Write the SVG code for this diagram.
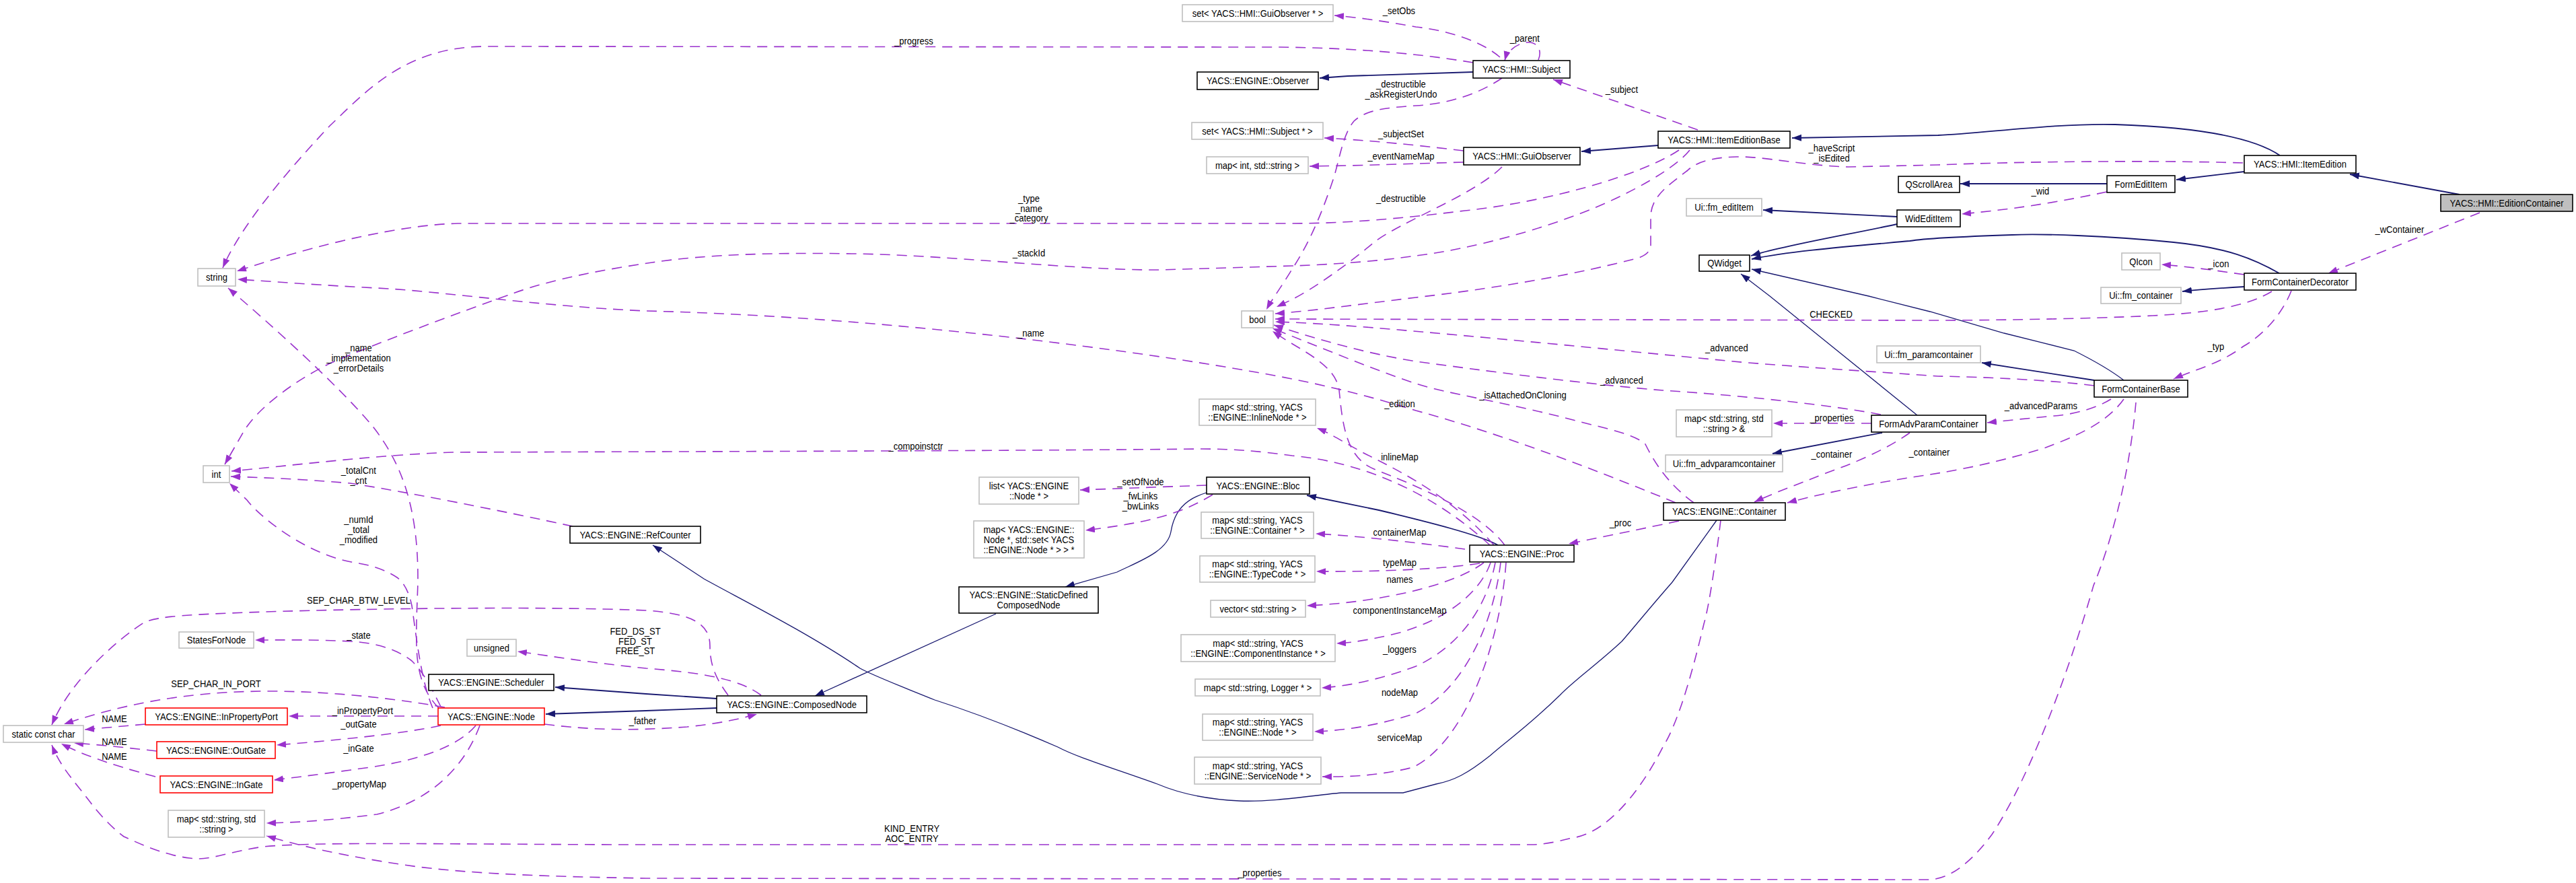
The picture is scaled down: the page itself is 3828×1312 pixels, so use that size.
<svg xmlns="http://www.w3.org/2000/svg" width="3828" height="1312" viewBox="0 0 3828 1312">
<style>
text { font-family: "Liberation Sans", Arial, sans-serif; font-size: 15.5px; fill: #000; text-anchor: middle; transform-box: fill-box; transform-origin: center; transform: scaleX(0.84); }
.b rect { fill: #fff; stroke: #000; stroke-width: 1.6; }
.g rect { fill: #fff; stroke: #bfbfbf; stroke-width: 1.6; }
.r rect { fill: #fff; stroke: #ff0000; stroke-width: 1.6; }
.f rect { fill: #bfbfbf; stroke: #000; stroke-width: 1.6; }
.u { fill: none; stroke: #9a32cd; stroke-width: 1.6; stroke-dasharray: 15 10; marker-end: url(#ap); }
.h { fill: none; stroke: #191970; stroke-width: 1.8; marker-end: url(#an); }
.h1 { fill: none; stroke: #191970; stroke-width: 1.3; marker-end: url(#an); }
</style>
<defs>
<marker id="ap" markerUnits="userSpaceOnUse" markerWidth="16" markerHeight="12" refX="14" refY="5" orient="auto"><path d="M0,0 L14,5 L0,10 z" fill="#9a32cd"/></marker>
<marker id="an" markerUnits="userSpaceOnUse" markerWidth="16" markerHeight="12" refX="14" refY="5" orient="auto"><path d="M0,0 L14,5 L0,10 z" fill="#191970"/></marker>
</defs>
<rect width="3828" height="1312" fill="#fff"/>

<g id="edges">
<!-- inheritance -->
<path class="h" d="M2189,107 L2003,113 L1961,116"/>
<path class="h" d="M2464,216 L2350,225"/>
<path class="h" d="M3388,231 C3360,212 3300,190 3143,185 C3050,183 2950,198 2880,201 L2663,205"/>
<path class="h" d="M3655,289 L3492,259"/>
<path class="h" d="M3335,255 L3234,267"/>
<path class="h" d="M3131,273 L2913,273"/>
<path class="h" d="M2819,322 L2620,312"/>
<path class="h" d="M2819,333 C2740,350 2650,365 2602,380"/>
<path class="h" d="M3387,406 C3350,385 3310,368 3230,360 C3130,350 3030,347 2990,349 C2900,352 2850,356 2838,358 C2750,366 2660,373 2603,385"/>
<path class="h1" d="M3156,565 C3130,545 3100,530 3082,521 L2978,495 L2868,463 L2777,440 L2603,400"/>
<path class="h1" d="M2849,617 L2630,440 L2587,407"/>
<path class="h" d="M3335,426 C3300,428 3270,430 3243,433"/>
<path class="h" d="M3112,565 C3050,555 3000,548 2945,539"/>
<path class="h" d="M2797,643 L2634,674"/>
<path class="h" d="M2226,810 C2200,795 2120,775 2049,758 L1942,736"/>
<path class="h1" d="M1793,732 C1760,742 1745,760 1740,790 C1735,820 1690,835 1660,850 L1583,872"/>
<path class="h1" d="M1480,912 L1211,1034"/>
<path class="h" d="M1065,1038 L960,1031 L825,1021"/>
<path class="h" d="M1065,1052 L960,1056 L811,1061"/>
<path class="h1" d="M2551,773 L2485,865 C2450,905 2430,930 2410,953 C2370,990 2340,1010 2318,1033 C2270,1080 2240,1100 2214,1123 C2180,1150 2160,1160 2134,1165 L2085,1178 L1993,1178 C1950,1182 1890,1192 1842,1190 C1800,1188 1760,1182 1720,1165 C1650,1140 1600,1125 1572,1110 C1480,1070 1420,1050 1389,1040 C1340,1020 1300,1005 1278,993 C1200,940 1100,890 1046,860 L970,810"/>

<!-- usage -->
<path class="u" d="M2229,85 C2200,60 2150,45 2104,40 C2060,32 2020,26 1983,23"/>
<path class="u" d="M2286,89 C2292,75 2285,62 2270,63 C2255,64 2240,75 2236,90"/>
<path class="u" d="M2189,93 C2100,78 2000,71 1900,70 L722,69 C600,69 540,140 490,187 C440,240 360,330 331,398"/>
<path class="u" d="M2232,116 C2190,145 2140,155 2104,157 C2060,160 2030,163 2012,180 C1995,200 1990,240 1981,267 C1960,330 1940,370 1920,400 C1905,425 1890,445 1882,460"/>
<path class="u" d="M2523,193 L2308,118"/>
<path class="u" d="M2175,224 C2100,215 2030,208 1968,205"/>
<path class="u" d="M2175,241 C2100,243 2030,246 1946,247"/>
<path class="u" d="M2232,248 C2190,290 2080,330 2042,360 C2000,395 1950,430 1920,445 L1897,456"/>
<path class="u" d="M2495,223 C2440,260 2300,300 2177,313 C2080,325 2000,332 1920,332 L680,332 C600,334 480,360 352,403"/>
<path class="u" d="M2511,223 C2490,250 2420,290 2349,317 C2250,355 2150,375 2104,380 C2050,388 1980,393 1920,395 L1725,401 C1600,402 1400,378 1266,377 C1150,375 1050,378 969,390 C900,400 820,415 765,435 C680,465 560,510 490,540 C430,570 380,610 361,643 L334,690"/>
<path class="u" d="M3333,242 C3200,238 3000,240 2880,245 L2746,248 C2680,246 2620,232 2581,233 C2540,234 2520,242 2508,253 C2480,275 2455,290 2453,320 L2453,367 C2450,378 2440,382 2428,385 C2350,405 2250,425 2104,442 C2020,452 1950,462 1895,466"/>
<path class="u" d="M3685,316 L3460,406"/>
<path class="u" d="M3131,285 C3060,300 3000,310 2915,318"/>
<path class="u" d="M3335,408 C3280,400 3240,395 3212,393"/>
<path class="u" d="M3376,433 C3340,455 3280,465 3199,469 C3100,474 2950,476 2868,476 L1895,474"/>
<path class="u" d="M3405,432 C3390,470 3360,500 3333,515 C3300,540 3260,550 3230,563"/>
<path class="u" d="M3112,573 C3050,565 2950,560 2880,559 C2750,550 2600,540 2566,536 C2400,520 2200,500 2042,487 C1990,483 1950,480 1895,478"/>
<path class="u" d="M3137,593 C3110,610 3070,617 3052,618 C3010,622 2980,625 2953,628"/>
<path class="u" d="M3156,593 C3130,630 3080,650 3040,665 C2960,690 2900,700 2868,705 C2800,715 2720,730 2656,747"/>
<path class="u" d="M3174,598 C3165,700 3140,800 3111,870 C3080,980 3020,1150 2960,1240 C2930,1280 2900,1305 2868,1307 L960,1305 C850,1303 700,1300 600,1285 C500,1270 440,1255 396,1242"/>
<path class="u" d="M2795,616 C2700,598 2550,585 2471,580 C2350,570 2200,550 2104,537 C2030,525 1960,505 1893,483"/>
<path class="u" d="M2781,629 L2635,629"/>
<path class="u" d="M2838,643 C2800,670 2750,690 2716,702 C2670,720 2630,735 2607,746"/>
<path class="u" d="M2517,747 C2480,720 2460,690 2445,660 C2430,645 2380,635 2349,627 C2250,600 2150,585 2104,570 C2030,545 1960,515 1891,488"/>
<path class="u" d="M2495,774 C2420,790 2370,800 2331,808"/>
<path class="u" d="M2490,747 C2400,710 2250,650 2104,610 C2040,590 1980,575 1920,563 C1700,520 1300,470 960,462 C800,455 650,432 560,428 C480,424 400,418 353,415"/>
<path class="u" d="M2214,810 C2160,760 2060,690 1920,677 C1870,670 1830,667 1786,667 C1500,670 1000,671 673,672 C560,676 450,690 344,700"/>
<path class="u" d="M2236,810 C2200,760 2100,720 2042,697 C2000,680 1995,630 1990,580 C1985,540 1930,520 1891,492"/>
<path class="u" d="M2220,810 C2160,740 2080,700 2040,680 C2000,660 1980,645 1957,636"/>
<path class="u" d="M2177,816 C2100,805 2000,795 1955,793"/>
<path class="u" d="M2199,837 C2150,845 2050,850 1956,849"/>
<path class="u" d="M2205,836 C2160,870 2050,895 1942,900"/>
<path class="u" d="M2215,836 C2200,880 2150,920 2080,940 C2040,950 2010,955 1986,956"/>
<path class="u" d="M2222,836 C2210,900 2170,960 2104,990 C2050,1010 2000,1020 1964,1022"/>
<path class="u" d="M2230,836 C2220,920 2180,1020 2104,1060 C2040,1080 1990,1086 1953,1087"/>
<path class="u" d="M2238,836 C2230,950 2180,1100 2100,1140 C2040,1155 1990,1154 1965,1154"/>
<path class="u" d="M1793,721 L1605,728"/>
<path class="u" d="M1802,735 C1760,760 1720,775 1613,788"/>
<path class="u" d="M851,782 C750,760 600,730 520,718 C450,712 400,710 343,708"/>
<path class="u" d="M643,1052 C625,1010 618,940 612,900 C608,880 600,865 590,858 C570,845 550,840 533,837 C500,832 470,820 441,803 C410,785 380,760 367,743 L341,718"/>
<path class="u" d="M652,1052 C630,1030 620,1000 619,960 C618,920 621,880 621,860 C621,760 600,690 551,630 C500,570 400,480 339,428"/>
<path class="u" d="M655,1050 C640,1020 630,1000 612,982 C590,965 560,955 520,953 C470,950 420,951 379,951"/>
<path class="u" d="M651,1064 L429,1064"/>
<path class="u" d="M655,1078 C600,1090 500,1100 411,1107"/>
<path class="u" d="M707,1078 C680,1110 620,1130 550,1140 C480,1150 440,1155 407,1159"/>
<path class="u" d="M713,1078 C690,1140 640,1190 560,1210 C480,1220 440,1222 396,1223"/>
<path class="u" d="M661,1051 C600,1040 500,1027 400,1027 C300,1027 200,1040 95,1076"/>
<path class="u" d="M216,1076 L126,1084"/>
<path class="u" d="M233,1116 C180,1110 140,1106 110,1104"/>
<path class="u" d="M231,1154 C160,1135 120,1120 91,1105"/>
<path class="u" d="M1082,1033 C1065,1010 1055,990 1055,960 C1055,930 1035,912 960,907 C800,900 500,905 367,910 C290,913 235,915 214,925 C175,950 105,1010 77,1077"/>
<path class="u" d="M1131,1033 C1100,1010 1050,1000 960,993 C880,985 820,975 769,968"/>
<path class="u" d="M809,1076 C880,1085 940,1086 1021,1080 C1070,1075 1100,1068 1125,1061"/>
<path class="u" d="M2557,773 C2550,830 2540,900 2532,927 C2510,1020 2490,1080 2471,1110 C2430,1190 2380,1240 2336,1245 C2310,1252 2290,1255 2275,1255 L960,1255 C700,1255 470,1250 392,1258 C340,1265 310,1280 282,1275 C240,1270 200,1250 184,1243 C160,1225 140,1200 135,1193 C110,1160 90,1140 77,1107"/>
</g>

<g id="labels">
<text x="2079" y="21.5">_setObs</text>
<text x="2266" y="62.5">_parent</text>
<text x="1358" y="66.5">_progress</text>
<text x="2082" y="130.5"><tspan x="2082">_destructible</tspan><tspan x="2082" dy="14.5">_askRegisterUndo</tspan></text>
<text x="2410" y="138.5">_subject</text>
<text x="2082" y="204.5">_subjectSet</text>
<text x="2082" y="237.5">_eventNameMap</text>
<text x="2722" y="225.5"><tspan x="2722">_haveScript</tspan><tspan x="2722" dy="14.5">_isEdited</tspan></text>
<text x="2082" y="300.5">_destructible</text>
<text x="1529" y="300.5"><tspan x="1529">_type</tspan><tspan x="1529" dy="14.5">_name</tspan><tspan x="1529" dy="14.5">_category</tspan></text>
<text x="1529" y="381.5">_stackId</text>
<text x="3032" y="289.5">_wid</text>
<text x="3566" y="346.5">_wContainer</text>
<text x="3297" y="397.5">_icon</text>
<text x="2721" y="472.5">CHECKED</text>
<text x="1532" y="500.5">_name</text>
<text x="3293" y="520.5">_typ</text>
<text x="2566" y="522.5">_advanced</text>
<text x="533" y="522.5"><tspan x="533">_name</tspan><tspan x="533" dy="15">_implementation</tspan><tspan x="533" dy="15">_errorDetails</tspan></text>
<text x="2410" y="570.5">_advanced</text>
<text x="2263" y="592.5">_isAttachedOnCloning</text>
<text x="2080" y="605.5">_edition</text>
<text x="3033" y="608.5">_advancedParams</text>
<text x="2722" y="626.5">_properties</text>
<text x="1361" y="668.5">_compoinstctr</text>
<text x="2722" y="680.5">_container</text>
<text x="2867" y="677.5">_container</text>
<text x="2080" y="684.5">inlineMap</text>
<text x="533" y="704.5"><tspan x="533">_totalCnt</tspan><tspan x="533" dy="15">_cnt</tspan></text>
<text x="1695" y="721.5">_setOfNode</text>
<text x="1695" y="742.5"><tspan x="1695">_fwLinks</tspan><tspan x="1695" dy="15">_bwLinks</tspan></text>
<text x="2408" y="782.5">_proc</text>
<text x="533" y="777.5"><tspan x="533">_numId</tspan><tspan x="533" dy="15">_total</tspan><tspan x="533" dy="14.5">_modified</tspan></text>
<text x="2080" y="796.5">containerMap</text>
<text x="2080" y="841.5">typeMap</text>
<text x="2080" y="866.5">names</text>
<text x="533" y="897.5">SEP_CHAR_BTW_LEVEL</text>
<text x="2080" y="912.5">componentInstanceMap</text>
<text x="944" y="943.5"><tspan x="944">FED_DS_ST</tspan><tspan x="944" dy="14.5">FED_ST</tspan><tspan x="944" dy="14.5">FREE_ST</tspan></text>
<text x="533" y="949.5">_state</text>
<text x="2080" y="970.5">_loggers</text>
<text x="321" y="1021.5">SEP_CHAR_IN_PORT</text>
<text x="2080" y="1034.5">nodeMap</text>
<text x="539" y="1061.5">_inPropertyPort</text>
<text x="170" y="1073.5">NAME</text>
<text x="955" y="1076.5">_father</text>
<text x="533" y="1081.5">_outGate</text>
<text x="2080" y="1101.5">serviceMap</text>
<text x="170" y="1107.5">NAME</text>
<text x="533" y="1117.5">_inGate</text>
<text x="170" y="1129.5">NAME</text>
<text x="534" y="1170.5">_propertyMap</text>
<text x="1355" y="1236.5"><tspan x="1355">KIND_ENTRY</tspan><tspan x="1355" dy="15">AOC_ENTRY</tspan></text>
<text x="1872" y="1302.5">_properties</text>
</g>

<g id="nodes">
<g id="n1" class="g"><rect x="1757" y="7" width="224" height="25"/><text x="1869" y="25">set&lt; YACS::HMI::GuiObserver * &gt;</text></g>
<g id="n2" class="b"><rect x="2189" y="90" width="144" height="26"/><text x="2261" y="108.5">YACS::HMI::Subject</text></g>
<g id="n3" class="b"><rect x="1779" y="107" width="180" height="26"/><text x="1869" y="125.5">YACS::ENGINE::Observer</text></g>
<g id="n4" class="g"><rect x="1771" y="182" width="195" height="25"/><text x="1868.5" y="200">set&lt; YACS::HMI::Subject * &gt;</text></g>
<g id="n5" class="g"><rect x="1793" y="233" width="151" height="25"/><text x="1868.5" y="251">map&lt; int, std::string &gt;</text></g>
<g id="n6" class="b"><rect x="2175" y="219" width="173" height="26"/><text x="2261.5" y="237.5">YACS::HMI::GuiObserver</text></g>
<g id="n7" class="b"><rect x="2464" y="195" width="196" height="25"/><text x="2562" y="213">YACS::HMI::ItemEditionBase</text></g>
<g id="n8" class="b"><rect x="3335" y="231" width="166" height="26"/><text x="3418" y="249.5">YACS::HMI::ItemEdition</text></g>
<g id="n9" class="f"><rect x="3627" y="289" width="196" height="25"/><text x="3725" y="307">YACS::HMI::EditionContainer</text></g>
<g id="n10" class="b"><rect x="2821" y="262" width="91" height="24"/><text x="2866.5" y="279.5">QScrollArea</text></g>
<g id="n11" class="b"><rect x="3131" y="261" width="101" height="25"/><text x="3181.5" y="279">FormEditItem</text></g>
<g id="n12" class="g"><rect x="2506" y="295" width="112" height="26"/><text x="2562" y="313.5">Ui::fm_editItem</text></g>
<g id="n13" class="b"><rect x="2819" y="312" width="94" height="25"/><text x="2866" y="330">WidEditItem</text></g>
<g id="n14" class="b"><rect x="2525" y="379" width="75" height="24"/><text x="2562.5" y="396.5">QWidget</text></g>
<g id="n15" class="g"><rect x="3153" y="376" width="57" height="25"/><text x="3181.5" y="394">QIcon</text></g>
<g id="n16" class="b"><rect x="3335" y="406" width="166" height="25"/><text x="3418" y="424">FormContainerDecorator</text></g>
<g id="n17" class="g"><rect x="3122" y="427" width="119" height="24"/><text x="3181.5" y="444.5">Ui::fm_container</text></g>
<g id="n18" class="g"><rect x="2789" y="514" width="154" height="25"/><text x="2866" y="532">Ui::fm_paramcontainer</text></g>
<g id="n19" class="b"><rect x="3112" y="565" width="139" height="25"/><text x="3181.5" y="583">FormContainerBase</text></g>
<g id="n20" class="b"><rect x="2781" y="617" width="170" height="25"/><text x="2866" y="635">FormAdvParamContainer</text></g>
<g id="n21" class="g"><rect x="2491" y="609" width="142" height="40"/><text x="2562" y="627"><tspan x="2562">map&lt; std::string, std</tspan><tspan x="2562" dy="15">::string &gt; &amp;</tspan></text></g>
<g id="n22" class="g"><rect x="2475" y="676" width="174" height="25"/><text x="2562" y="694">Ui::fm_advparamcontainer</text></g>
<g id="n23" class="b"><rect x="2472" y="747" width="181" height="26"/><text x="2562.5" y="765.5">YACS::ENGINE::Container</text></g>
<g id="n24" class="b"><rect x="2184" y="810" width="155" height="25"/><text x="2261.5" y="828">YACS::ENGINE::Proc</text></g>
<g id="n25" class="g"><rect x="1782" y="593" width="173" height="39"/><text x="1868.5" y="610.5"><tspan x="1868.5">map&lt; std::string, YACS</tspan><tspan x="1868.5" dy="15">::ENGINE::InlineNode * &gt;</tspan></text></g>
<g id="n26" class="b"><rect x="1793" y="709" width="153" height="25"/><text x="1869.5" y="727">YACS::ENGINE::Bloc</text></g>
<g id="n27" class="g"><rect x="1785" y="761" width="167" height="39"/><text x="1868.5" y="778.5"><tspan x="1868.5">map&lt; std::string, YACS</tspan><tspan x="1868.5" dy="15">::ENGINE::Container * &gt;</tspan></text></g>
<g id="n28" class="g"><rect x="1783" y="826" width="171" height="39"/><text x="1868.5" y="843.5"><tspan x="1868.5">map&lt; std::string, YACS</tspan><tspan x="1868.5" dy="15">::ENGINE::TypeCode * &gt;</tspan></text></g>
<g id="n29" class="g"><rect x="1799" y="892" width="141" height="25"/><text x="1869.5" y="910">vector&lt; std::string &gt;</text></g>
<g id="n30" class="g"><rect x="1755" y="943" width="229" height="40"/><text x="1869.5" y="961"><tspan x="1869.5">map&lt; std::string, YACS</tspan><tspan x="1869.5" dy="15">::ENGINE::ComponentInstance * &gt;</tspan></text></g>
<g id="n31" class="g"><rect x="1776" y="1009" width="186" height="25"/><text x="1869" y="1027">map&lt; std::string, Logger * &gt;</text></g>
<g id="n32" class="g"><rect x="1787" y="1061" width="164" height="39"/><text x="1869" y="1078.5"><tspan x="1869">map&lt; std::string, YACS</tspan><tspan x="1869" dy="15">::ENGINE::Node * &gt;</tspan></text></g>
<g id="n33" class="g"><rect x="1775" y="1125" width="188" height="40"/><text x="1869" y="1143"><tspan x="1869">map&lt; std::string, YACS</tspan><tspan x="1869" dy="15">::ENGINE::ServiceNode * &gt;</tspan></text></g>
<g id="n34" class="g"><rect x="1845" y="462" width="47" height="25"/><text x="1868.5" y="480">bool</text></g>
<g id="n35" class="g"><rect x="294" y="399" width="56" height="26"/><text x="322" y="417.5">string</text></g>
<g id="n36" class="g"><rect x="302" y="692" width="39" height="25"/><text x="321.5" y="710">int</text></g>
<g id="n37" class="g"><rect x="1455" y="709" width="148" height="40"/><text x="1529" y="727"><tspan x="1529">list&lt; YACS::ENGINE</tspan><tspan x="1529" dy="15">::Node * &gt;</tspan></text></g>
<g id="n38" class="g"><rect x="1447" y="774" width="164" height="55"/><text x="1529" y="792"><tspan x="1529">map&lt; YACS::ENGINE::</tspan><tspan x="1529" dy="15">Node *, std::set&lt; YACS</tspan><tspan x="1529" dy="15">::ENGINE::Node * &gt; &gt; *</tspan></text></g>
<g id="n39" class="b"><rect x="847" y="782" width="194" height="25"/><text x="944" y="800">YACS::ENGINE::RefCounter</text></g>
<g id="n40" class="b"><rect x="1425" y="872" width="207" height="39"/><text x="1528.5" y="889.5"><tspan x="1528.5">YACS::ENGINE::StaticDefined</tspan><tspan x="1528.5" dy="15">ComposedNode</tspan></text></g>
<g id="n41" class="b"><rect x="1065" y="1034" width="223" height="25"/><text x="1176.5" y="1052">YACS::ENGINE::ComposedNode</text></g>
<g id="n42" class="g"><rect x="5" y="1078" width="119" height="25"/><text x="64.5" y="1096">static const char</text></g>
<g id="n43" class="g"><rect x="266" y="939" width="111" height="24"/><text x="321.5" y="956.5">StatesForNode</text></g>
<g id="n44" class="g"><rect x="694" y="950" width="73" height="25"/><text x="730.5" y="968">unsigned</text></g>
<g id="n45" class="b"><rect x="637" y="1002" width="186" height="24"/><text x="730" y="1019.5">YACS::ENGINE::Scheduler</text></g>
<g id="n46" class="r"><rect x="216" y="1052" width="211" height="25"/><text x="321.5" y="1070">YACS::ENGINE::InPropertyPort</text></g>
<g id="n47" class="r"><rect x="651" y="1052" width="158" height="25"/><text x="730" y="1070">YACS::ENGINE::Node</text></g>
<g id="n48" class="r"><rect x="233" y="1102" width="176" height="25"/><text x="321" y="1120">YACS::ENGINE::OutGate</text></g>
<g id="n49" class="r"><rect x="238" y="1153" width="167" height="25"/><text x="321.5" y="1171">YACS::ENGINE::InGate</text></g>
<g id="n50" class="g"><rect x="250" y="1204" width="143" height="40"/><text x="321.5" y="1222"><tspan x="321.5">map&lt; std::string, std</tspan><tspan x="321.5" dy="15">::string &gt;</tspan></text></g>
</g>
</svg>
